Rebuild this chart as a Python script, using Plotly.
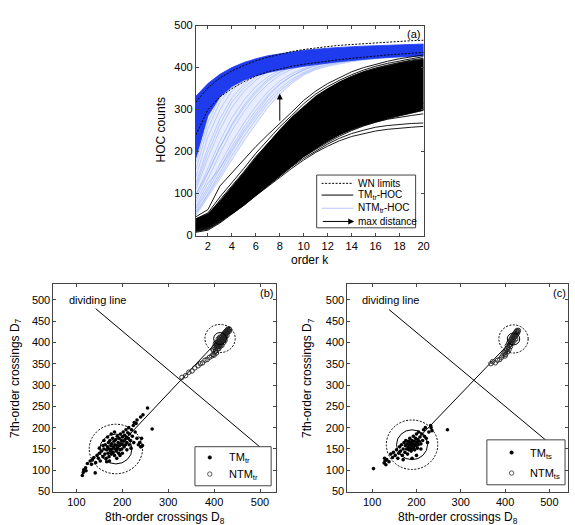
import plotly.graph_objects as go

W, H = 575, 525
FONT = "Liberation Sans, Arial, sans-serif"

# ---------------- panel (a): higher-order crossings vs order k ----------------
k = list(range(1, 21))

wn_upper = [318, 352, 375, 392, 405, 416, 425, 432, 438, 443, 447, 450, 453, 455, 457, 459, 461, 462, 464, 465]
wn_lower = [240, 300, 330, 350, 366, 380, 390, 397, 403, 408, 412, 416, 419, 422, 425, 428, 430, 432, 434, 436]

# dense core of the NTM curves
ntm_core_hi = [332, 362, 384, 400, 412, 421, 428, 433, 437, 441, 444, 446, 448, 450, 451, 452, 453, 454, 455, 456]
ntm_core_lo = [185, 285, 330, 355, 370, 380, 388, 394, 399, 403, 407, 411, 414, 417, 420, 422, 424, 426, 427, 428]

# individual NTM curves that rise later
ntm_curves = [
    [48, 90, 135, 180, 225, 265, 305, 337, 362, 382, 395, 403, 409, 414, 418, 421, 424, 426, 428, 429],
    [52, 96, 142, 190, 236, 276, 314, 344, 367, 385, 398, 406, 411, 416, 419, 422, 424, 426, 428, 430],
    [55, 100, 150, 200, 245, 285, 322, 350, 372, 388, 400, 408, 413, 417, 420, 423, 425, 427, 429, 430],
    [60, 108, 160, 212, 258, 298, 334, 361, 380, 394, 404, 411, 416, 420, 423, 425, 427, 429, 430, 431],
    [65, 115, 170, 222, 268, 308, 342, 368, 386, 398, 407, 413, 418, 421, 424, 426, 428, 430, 431, 432],
    [70, 125, 160, 205, 250, 290, 330, 360, 380, 395, 405, 412, 417, 421, 424, 427, 429, 431, 432, 433],
    [80, 135, 195, 250, 295, 332, 360, 382, 396, 406, 413, 418, 422, 425, 427, 429, 431, 432, 433, 434],
    [88, 148, 210, 265, 310, 345, 372, 390, 402, 410, 416, 421, 424, 427, 429, 431, 432, 433, 434, 435],
    [95, 160, 225, 280, 322, 355, 378, 394, 405, 413, 419, 423, 426, 428, 430, 432, 433, 434, 435, 436],
    [100, 150, 210, 262, 305, 340, 368, 388, 401, 410, 417, 422, 425, 428, 430, 432, 434, 435, 436, 437],
    [110, 185, 252, 305, 343, 370, 390, 403, 412, 419, 424, 427, 430, 432, 434, 435, 436, 437, 438, 439],
    [118, 198, 265, 318, 352, 377, 395, 407, 415, 421, 426, 429, 432, 434, 435, 437, 438, 439, 440, 441],
    [125, 210, 278, 328, 360, 383, 399, 410, 418, 424, 428, 431, 433, 435, 437, 438, 439, 440, 441, 442],
    [140, 235, 300, 345, 372, 392, 406, 416, 423, 428, 432, 435, 437, 439, 440, 441, 442, 443, 444, 445],
    [158, 255, 318, 355, 380, 398, 411, 420, 427, 432, 435, 438, 440, 442, 443, 444, 445, 446, 447, 447],
    [175, 270, 330, 362, 386, 403, 415, 424, 430, 435, 438, 441, 443, 445, 446, 447, 448, 449, 449, 450],
]

# dense core of the TM curves
tm_core_hi = [40, 52, 82, 115, 150, 186, 220, 252, 282, 308, 332, 350, 366, 379, 390, 398, 405, 411, 416, 420]
tm_core_lo = [14, 20, 35, 52, 72, 95, 118, 142, 165, 188, 208, 226, 240, 252, 262, 270, 278, 285, 292, 298]

# individual TM curves along the edges of the bundle
tm_curves = [
    [45, 62, 118, 150, 182, 212, 240, 266, 294, 322, 344, 362, 377, 390, 400, 408, 415, 421, 426, 430],
    [40, 54, 92, 125, 160, 196, 228, 259, 286, 314, 337, 355, 370, 383, 394, 403, 410, 416, 421, 426],
    [35, 48, 85, 118, 152, 188, 220, 250, 278, 306, 330, 349, 365, 379, 390, 399, 406, 412, 418, 422],
    [8, 13, 30, 50, 72, 95, 117, 139, 160, 180, 198, 213, 226, 236, 243, 249, 253, 256, 258, 260],
    [10, 15, 32, 52, 74, 97, 120, 142, 164, 184, 202, 218, 232, 243, 251, 258, 262, 265, 267, 268],
    [12, 18, 34, 54, 76, 99, 122, 146, 168, 188, 206, 222, 237, 250, 261, 270, 277, 282, 286, 290],
    [13, 19, 36, 56, 78, 101, 124, 148, 171, 192, 210, 227, 243, 257, 268, 278, 287, 294, 300, 305],
    [11, 17, 33, 53, 75, 98, 121, 144, 167, 189, 208, 225, 241, 255, 267, 278, 288, 297, 305, 315],
]

arrow_k = 8
arrow_from = 270
arrow_to = 338

# ---------------- panels (b) and (c): D8 vs D7 scatter ----------------
tm_tr = [
    (113, 88), (115, 95), (116, 101), (121, 99), (120, 106), (124, 116), (133, 114), (141, 94),
    (130, 122), (135, 125), (138, 130), (142, 118), (145, 135), (148, 128), (150, 140), (152, 122),
    (155, 145), (158, 132), (160, 150), (162, 138), (163, 160), (165, 128), (166, 148), (168, 155),
    (169, 140), (170, 165), (171, 132), (172, 150), (173, 170), (174, 145), (175, 158), (176, 138),
    (177, 162), (178, 150), (179, 175), (180, 142), (181, 155), (182, 168), (183, 135), (184, 160),
    (185, 150), (186, 172), (187, 145), (188, 158), (189, 180), (190, 152), (191, 165), (192, 140),
    (193, 175), (194, 158), (195, 148), (196, 185), (197, 162), (198, 170), (199, 150), (200, 178),
    (201, 160), (202, 190), (203, 168), (204, 155), (205, 182), (206, 172), (207, 160), (208, 195),
    (209, 178), (210, 165), (212, 188), (213, 175), (214, 200), (215, 160), (216, 185), (218, 170),
    (220, 195), (222, 180), (224, 205), (225, 165), (228, 190), (230, 210), (232, 175), (235, 160),
    (238, 165), (240, 155), (242, 175), (244, 158), (166, 120), (172, 122), (188, 128), (195, 135),
    (160, 170), (168, 178), (176, 185), (183, 190), (158, 158), (150, 152), (200, 140), (210, 148),
    (219, 152), (226, 212), (232, 218), (240, 225), (245, 230), (255, 246), (265, 197),
]
ntm_tr = [
    (330, 318), (338, 322), (345, 330), (352, 333), (358, 340), (365, 345), (370, 350), (375, 352),
    (380, 358), (385, 360), (390, 365), (395, 368), (398, 372), (402, 378), (405, 375), (400, 370),
    (400, 388), (402, 392), (404, 386), (405, 395), (406, 390), (407, 398), (408, 393), (409, 402),
    (410, 396), (411, 405), (412, 399), (413, 408), (414, 402), (415, 411), (416, 405), (417, 414),
    (418, 408), (419, 417), (420, 411), (421, 420), (422, 414), (423, 422), (424, 417), (425, 425),
    (426, 419), (427, 427), (428, 422), (429, 430), (430, 424), (431, 428), (432, 432), (433, 426),
    (434, 430), (412, 395), (415, 400), (418, 403), (420, 406), (423, 410), (425, 413), (428, 416),
    (410, 390), (408, 385), (413, 390), (416, 396), (406, 400), (409, 408), (412, 412), (404, 380),
    (398, 382), (403, 398), (410, 385), (417, 393), (421, 400), (424, 405), (414, 398), (419, 409),
    (422, 418), (426, 423), (430, 427), (411, 393), (407, 392),
]
tm_ts = [
    (103, 104), (127, 117), (129, 122), (131, 113), (128, 128), (133, 125), (138, 120), (142, 138),
    (146, 130), (148, 142), (152, 135), (155, 148), (158, 128), (160, 140), (162, 155), (164, 145),
    (166, 160), (168, 135), (170, 150), (172, 165), (174, 142), (175, 158), (176, 170), (178, 150),
    (179, 162), (180, 138), (181, 155), (182, 168), (183, 148), (184, 160), (185, 175), (186, 152),
    (187, 165), (188, 145), (189, 158), (190, 170), (191, 150), (192, 162), (193, 180), (194, 155),
    (195, 168), (196, 148), (197, 160), (198, 175), (199, 158), (200, 185), (201, 165), (202, 152),
    (203, 172), (204, 160), (205, 190), (206, 168), (208, 178), (210, 162), (212, 185), (214, 170),
    (216, 195), (218, 180), (220, 200), (222, 175), (225, 165), (228, 190), (233, 200), (235, 193),
    (232, 205), (270, 195), (190, 128), (200, 135), (170, 125), (210, 150),
]
ntm_ts = [
    (368, 350), (372, 355), (378, 352), (383, 358), (388, 360), (392, 365), (395, 370), (398, 375),
    (400, 368), (402, 380), (404, 385), (406, 378), (405, 392), (407, 388), (408, 398), (410, 393),
    (411, 402), (412, 396), (413, 406), (414, 400), (415, 410), (416, 404), (417, 413), (418, 407),
    (419, 416), (420, 410), (421, 419), (422, 413), (423, 422), (424, 416), (425, 425), (426, 419),
    (427, 428), (428, 422), (429, 425), (430, 428), (412, 390), (416, 398), (420, 403), (424, 408),
    (409, 383), (401, 372),
]

# class centres, circle radii (inner, outer) and the dividing line for each panel
centre_tm_b, centre_ntm_b = (186, 150), (413, 409)
centre_tm_c, centre_ntm_c = (190, 160), (419, 408)
r_in_tm, r_out_tm = 35, 58
r_in_ntm, r_out_ntm = 14, 33
divide_b = [(142, 479), (505, 150)]
divide_c = [(138, 477), (495, 168)]


def px(x):
    return x / W


def py(y):
    return 1 - y / H


fig = go.Figure()

# ---- panel (a) traces
# faint haze where the slower NTM curves are packed together
fig.add_trace(go.Scatter(x=k + k[::-1], y=ntm_core_lo + ntm_curves[0][::-1], mode="lines",
                         fill="toself", fillcolor="rgba(150,172,252,0.22)", xaxis="x", yaxis="y",
                         line=dict(width=0)))
for c in ntm_curves:
    fig.add_trace(go.Scatter(x=k, y=c, mode="lines", xaxis="x", yaxis="y",
                             line=dict(color="rgba(120,150,250,0.5)", width=0.8)))
fig.add_trace(go.Scatter(x=k + k[::-1], y=ntm_core_hi + ntm_core_lo[::-1], mode="lines",
                         fill="toself", fillcolor="rgb(30,60,238)", xaxis="x", yaxis="y",
                         line=dict(color="rgb(30,60,238)", width=0.8)))
fig.add_trace(go.Scatter(x=k + k[::-1], y=tm_core_hi + tm_core_lo[::-1], mode="lines",
                         fill="toself", fillcolor="black", xaxis="x", yaxis="y",
                         line=dict(color="black", width=0.8)))
for c in tm_curves:
    fig.add_trace(go.Scatter(x=k, y=c, mode="lines", xaxis="x", yaxis="y",
                             line=dict(color="black", width=0.9)))
for c in (wn_upper, wn_lower):
    fig.add_trace(go.Scatter(x=k, y=c, mode="lines", xaxis="x", yaxis="y",
                             line=dict(color="black", width=1, dash="2px,1.5px")))


# ---- panels (b), (c) traces
def scatter_panel(xa, ya, tm, ntm, c_tm, c_ntm, divide):
    fig.add_trace(go.Scatter(x=[c_tm[0], c_ntm[0]], y=[c_tm[1], c_ntm[1]], mode="lines",
                             xaxis=xa, yaxis=ya, line=dict(color="black", width=1)))
    fig.add_trace(go.Scatter(x=[p[0] for p in divide], y=[p[1] for p in divide], mode="lines",
                             xaxis=xa, yaxis=ya, line=dict(color="black", width=1)))
    fig.add_trace(go.Scatter(x=[p[0] for p in ntm], y=[p[1] for p in ntm], mode="markers",
                             xaxis=xa, yaxis=ya,
                             marker=dict(symbol="circle-open", size=4.5, color="#222",
                                         line=dict(width=0.9))))
    fig.add_trace(go.Scatter(x=[p[0] for p in tm], y=[p[1] for p in tm], mode="markers",
                             xaxis=xa, yaxis=ya,
                             marker=dict(symbol="circle", size=3.6, color="black")))


scatter_panel("x2", "y2", tm_tr, ntm_tr, centre_tm_b, centre_ntm_b, divide_b)
scatter_panel("x3", "y3", tm_ts, ntm_ts, centre_tm_c, centre_ntm_c, divide_c)

shapes = []
for xr, yr, ctm, cntm in (("x2", "y2", centre_tm_b, centre_ntm_b), ("x3", "y3", centre_tm_c, centre_ntm_c)):
    for (cx, cy), r, dash in ((ctm, r_in_tm, "solid"), (ctm, r_out_tm, "2px,1.5px"),
                              (cntm, r_in_ntm, "solid"), (cntm, r_out_ntm, "2px,1.5px")):
        shapes.append(dict(type="circle", xref=xr, yref=yr, x0=cx - r, x1=cx + r,
                           y0=cy - r, y1=cy + r, line=dict(color="black", width=1, dash=dash)))

# ---- hand-drawn legend boxes
legend_boxes = [(320, 173, 420, 227), (197, 451, 274, 491), (492, 444, 571, 490)]
for x0, y0, x1, y1 in legend_boxes:
    shapes.append(dict(type="rect", xref="paper", yref="paper", x0=px(x0), x1=px(x1),
                       y0=py(y1), y1=py(y0), fillcolor="white", line=dict(color="#444", width=1),
                       layer="above"))
# legend (a) symbols
shapes.append(dict(type="line", xref="paper", yref="paper", x0=px(325), x1=px(357),
                   y0=py(181.5), y1=py(181.5), line=dict(color="black", width=1, dash="2px,1.5px"),
                   layer="above"))
shapes.append(dict(type="line", xref="paper", yref="paper", x0=px(325), x1=px(357),
                   y0=py(193.5), y1=py(193.5), line=dict(color="black", width=1), layer="above"))
shapes.append(dict(type="line", xref="paper", yref="paper", x0=px(325), x1=px(357),
                   y0=py(207), y1=py(207), line=dict(color="rgb(170,185,250)", width=0.8), layer="above"))
# legend (b)/(c) markers
for mx, ya, yb in ((212, 462, 479), (517, 457, 478)):
    shapes.append(dict(type="circle", xref="paper", yref="paper", xsizemode="pixel", ysizemode="pixel",
                       xanchor=px(mx), yanchor=py(ya), x0=-1.8, x1=1.8, y0=-1.8, y1=1.8,
                       fillcolor="black", line=dict(color="black", width=0.5), layer="above"))
    shapes.append(dict(type="circle", xref="paper", yref="paper", xsizemode="pixel", ysizemode="pixel",
                       xanchor=px(mx), yanchor=py(yb), x0=-2.2, x1=2.2, y0=-2.2, y1=2.2,
                       line=dict(color="#333", width=0.8), layer="above"))

ann = []


def text(x, y, s, size=11, angle=0, xanchor="center", yanchor="middle"):
    ann.append(dict(x=px(x), y=py(y), xref="paper", yref="paper", text=s, showarrow=False,
                    textangle=angle, xanchor=xanchor, yanchor=yanchor,
                    font=dict(family=FONT, size=size, color="black")))


text(163, 127, "HOC counts", 12, -90)
text(313, 251, "order k", 12, yanchor="top")
text(418, 29, "(a)", 11)
text(16, 381, "7th-order crossings D<sub>7</sub>", 12, -90)
text(312, 381, "7th-order crossings D<sub>7</sub>", 12, -90)
text(167, 514, "8th-order crossings D<sub>8</sub>", 12, yanchor="top")
text(463, 514, "8th-order crossings D<sub>8</sub>", 12, yanchor="top")
text(269, 294, "(b)", 11)
text(565, 294, "(c)", 11)
text(68, 301, "dividing line", 11, xanchor="left")
text(364, 301, "dividing line", 11, xanchor="left")
# legend texts
text(360, 181.5, "WN limits", 10, xanchor="left")
text(360, 193.5, "TM<sub>tr</sub>-HOC", 10, xanchor="left")
text(360, 207, "NTM<sub>tr</sub>-HOC", 10, xanchor="left")
text(360, 220.5, "max distance", 10, xanchor="left")
text(229, 463, "TM<sub>tr</sub>", 11, xanchor="left")
text(229, 480, "NTM<sub>tr</sub>", 11, xanchor="left")
text(534, 458, "TM<sub>ts</sub>", 11, xanchor="left")
text(534, 479, "NTM<sub>ts</sub>", 11, xanchor="left")

# arrows: max distance in (a) and its legend key
ann.append(dict(x=arrow_k, y=arrow_to, ax=arrow_k, ay=arrow_from, xref="x", yref="y",
                axref="x", ayref="y", text="", showarrow=True, arrowhead=2, arrowsize=1.2,
                arrowwidth=1, arrowcolor="black"))
ann.append(dict(x=px(358), y=py(220.5), ax=-33, ay=0, xref="paper", yref="paper",
                text="", showarrow=True, arrowhead=2, arrowsize=1.2, arrowwidth=1, arrowcolor="black"))

axis_common = dict(showline=True, linecolor="#444", linewidth=1, mirror="ticks", ticks="inside",
                   ticklen=3, tickcolor="#444", showgrid=False, zeroline=False,
                   tickfont=dict(family=FONT, size=11, color="black"))

fig.update_layout(
    width=W, height=H, margin=dict(l=0, r=0, t=0, b=0), showlegend=False,
    paper_bgcolor="white", plot_bgcolor="white",
    xaxis=dict(domain=[px(198), px(428)], range=[1, 20], tickvals=list(range(2, 21, 2)),
               anchor="y", **axis_common),
    yaxis=dict(domain=[py(235), py(20)], range=[0, 500], tickvals=list(range(0, 501, 100)),
               anchor="x", **axis_common),
    xaxis2=dict(domain=[px(54), px(279)], range=[50, 535], tickvals=list(range(100, 501, 100)),
                anchor="y2", **axis_common),
    yaxis2=dict(domain=[py(497), py(284)], range=[50, 538], tickvals=list(range(50, 501, 50)),
                anchor="x2", **axis_common),
    xaxis3=dict(domain=[px(351), px(574)], range=[44, 542], tickvals=list(range(100, 501, 100)),
                anchor="y3", **axis_common),
    yaxis3=dict(domain=[py(497), py(284)], range=[50, 538], tickvals=list(range(50, 501, 50)),
                anchor="x3", **axis_common),
    shapes=shapes, annotations=ann,
)

fig.write_html("out.html")
